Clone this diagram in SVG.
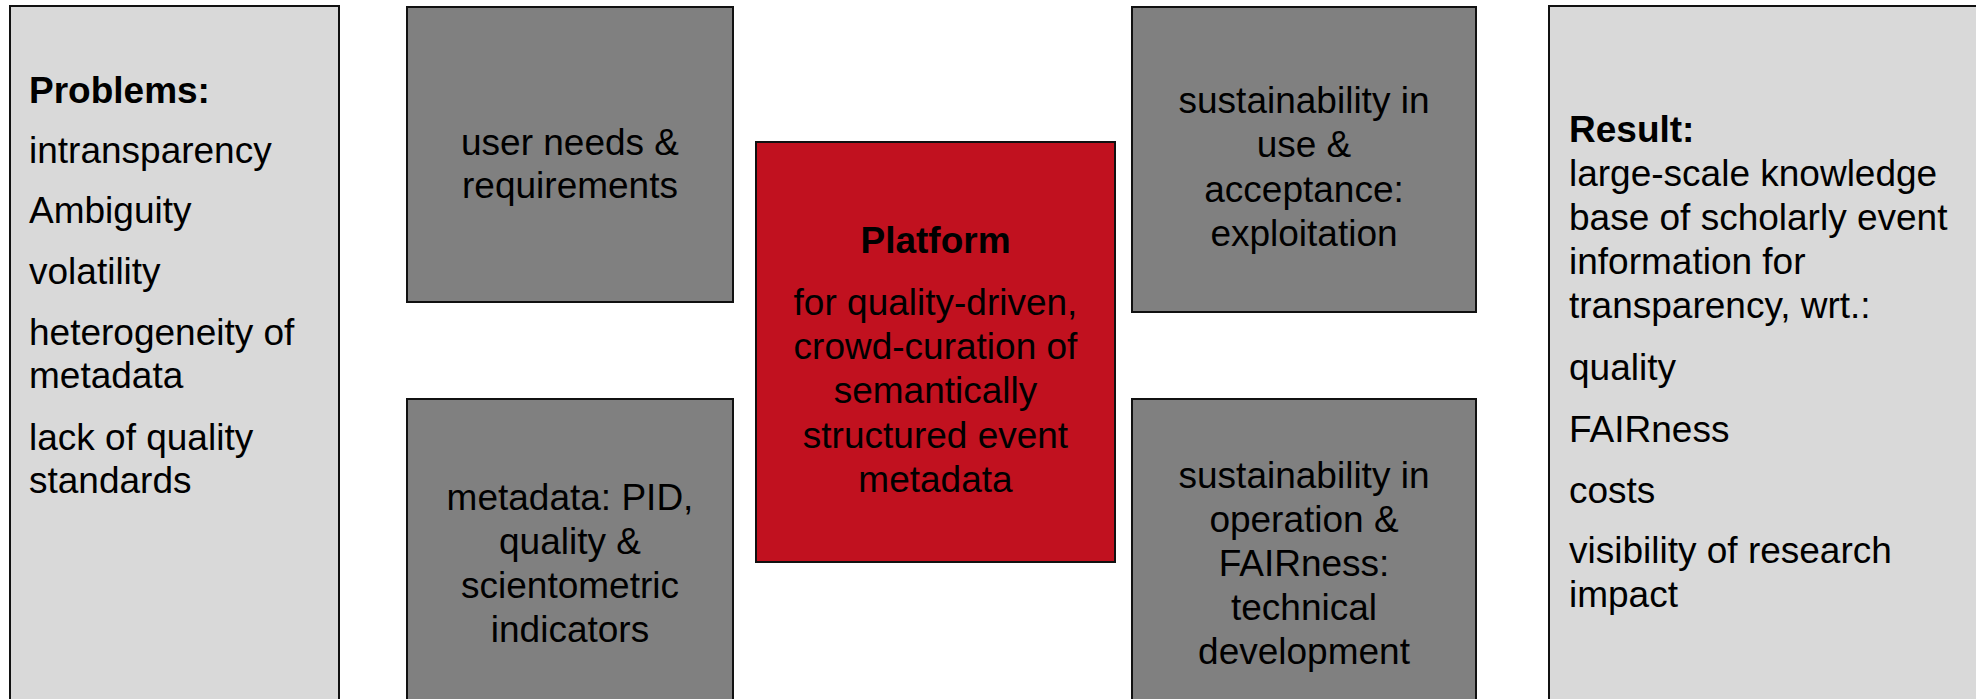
<svg xmlns="http://www.w3.org/2000/svg" width="1976" height="699" viewBox="0 0 1976 699">
<style>
  text { font-family: "Liberation Sans", Arial, sans-serif; font-size: 37px; fill: #000; }
  .b { font-weight: bold; }
  .c { text-anchor: middle; }
  .panel { fill: #d9d9d9; stroke: #111; stroke-width: 2; }
  .gray { fill: #808080; stroke: #111; stroke-width: 2; }
  .red { fill: #c1111f; stroke: #111; stroke-width: 2; }
</style>
<rect width="1976" height="699" fill="#fff"/>
<g id="problems">
  <rect class="panel" x="10" y="6" width="329" height="710"/>
  <text class="b" x="29" y="103">Problems:</text>
  <text x="29" y="163">intransparency</text>
  <text x="29" y="223">Ambiguity</text>
  <text x="29" y="284">volatility</text>
  <text x="29" y="345">heterogeneity of</text>
  <text x="29" y="388">metadata</text>
  <text x="29" y="450">lack of quality</text>
  <text x="29" y="493">standards</text>
</g>
<g id="user-needs">
  <rect class="gray" x="407" y="7" width="326" height="295"/>
  <text class="c" x="570" y="155">user needs &amp;</text>
  <text class="c" x="570" y="198">requirements</text>
</g>
<g id="metadata">
  <rect class="gray" x="407" y="399" width="326" height="310"/>
  <text class="c" x="570" y="510">metadata: PID,</text>
  <text class="c" x="570" y="554">quality &amp;</text>
  <text class="c" x="570" y="598">scientometric</text>
  <text class="c" x="570" y="642">indicators</text>
</g>
<g id="platform">
  <rect class="red" x="756" y="142" width="359" height="420"/>
  <text class="c b" x="935.5" y="253">Platform</text>
  <text class="c" x="935.5" y="315">for quality-driven,</text>
  <text class="c" x="935.5" y="359">crowd-curation of</text>
  <text class="c" x="935.5" y="403">semantically</text>
  <text class="c" x="935.5" y="448">structured event</text>
  <text class="c" x="935.5" y="492">metadata</text>
</g>
<g id="sustainability-use">
  <rect class="gray" x="1132" y="7" width="344" height="305"/>
  <text class="c" x="1304" y="113">sustainability in</text>
  <text class="c" x="1304" y="157">use &amp;</text>
  <text class="c" x="1304" y="202">acceptance:</text>
  <text class="c" x="1304" y="246">exploitation</text>
</g>
<g id="sustainability-operation">
  <rect class="gray" x="1132" y="399" width="344" height="310"/>
  <text class="c" x="1304" y="488">sustainability in</text>
  <text class="c" x="1304" y="532">operation &amp;</text>
  <text class="c" x="1304" y="576">FAIRness:</text>
  <text class="c" x="1304" y="620">technical</text>
  <text class="c" x="1304" y="664">development</text>
</g>
<g id="result">
  <rect class="panel" x="1549" y="6" width="440" height="710"/>
  <text class="b" x="1569" y="142">Result:</text>
  <text x="1569" y="186">large-scale knowledge</text>
  <text x="1569" y="230">base of scholarly event</text>
  <text x="1569" y="274">information for</text>
  <text x="1569" y="318">transparency, wrt.:</text>
  <text x="1569" y="380">quality</text>
  <text x="1569" y="442">FAIRness</text>
  <text x="1569" y="503">costs</text>
  <text x="1569" y="563">visibility of research</text>
  <text x="1569" y="607">impact</text>
</g>
<g id="connectors"/>
</svg>
